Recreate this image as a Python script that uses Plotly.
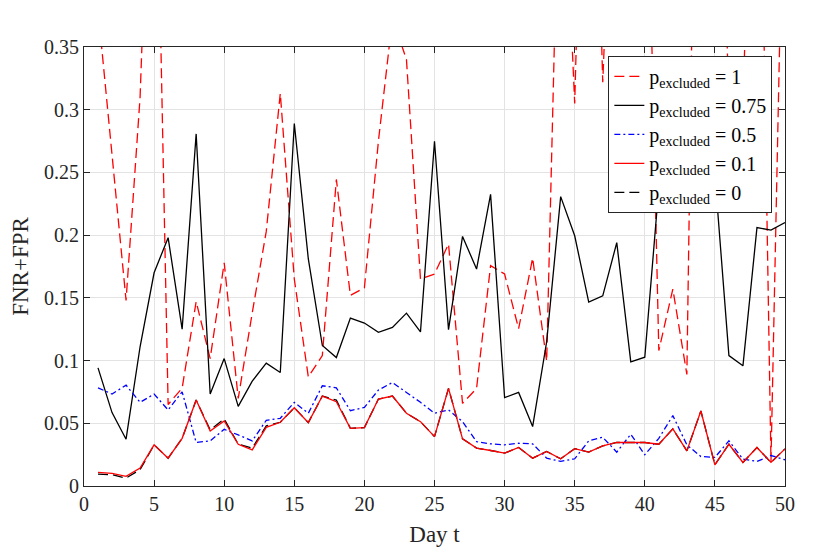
import plotly.graph_objects as go

days = list(range(1, 51))

p_1 = [0.38, 0.265, 0.148, 0.31, 0.62, 0.065, 0.078, 0.147, 0.1016, 0.178,
       0.0698, 0.138, 0.203, 0.313, 0.165, 0.087, 0.104, 0.2444, 0.152, 0.158,
       0.275, 0.373, 0.34, 0.165, 0.169, 0.193, 0.0659, 0.0778, 0.1757, 0.169,
       0.1254, 0.1817, 0.0995, 0.559, 0.305, 0.72, 0.322, 0.6, 0.55, 0.6,
       0.108, 0.157, 0.089, 0.86, 0.72, 0.3, 0.3, 0.7, 0.0196, 0.56]

p_075 = [0.0942, 0.0585, 0.0373, 0.111, 0.170, 0.198, 0.125, 0.2807, 0.0733, 0.1016,
         0.0635, 0.0836, 0.0979, 0.0905, 0.289, 0.181, 0.112, 0.1024, 0.1339, 0.1299,
         0.1225, 0.1264, 0.1378, 0.1228, 0.2749, 0.1246, 0.199, 0.173, 0.2325, 0.0704,
         0.0746, 0.0474, 0.115, 0.2307, 0.1995, 0.1466, 0.1516, 0.194, 0.099, 0.1027,
         0.238, 0.27, 0.23, 0.28, 0.248, 0.104, 0.0958, 0.206, 0.204, 0.21]

p_05 = [0.0783, 0.0733, 0.0804, 0.0667, 0.0733, 0.0606, 0.0751, 0.0347, 0.036, 0.0452,
        0.0407, 0.036, 0.0524, 0.054, 0.0667, 0.058, 0.0799, 0.0783, 0.060, 0.0627,
        0.0765, 0.0825, 0.0746, 0.0667, 0.058, 0.0606, 0.0513, 0.0354, 0.0336, 0.0328,
        0.0341, 0.0336, 0.0222, 0.0196, 0.0217, 0.036, 0.0389, 0.027, 0.0413, 0.0249,
        0.038, 0.0561, 0.0328, 0.0235, 0.0228, 0.036, 0.0214, 0.0196, 0.0243, 0.0209]

p_01 = [0.0108, 0.0101, 0.0077, 0.0143, 0.0328, 0.0222, 0.038, 0.0685, 0.0439, 0.0519,
        0.0333, 0.0288, 0.0468, 0.0508, 0.0624, 0.0505, 0.0717, 0.0672, 0.046, 0.0466,
        0.0693, 0.0717, 0.058, 0.0513, 0.0394, 0.0778, 0.0376, 0.0302, 0.0283, 0.0262,
        0.0307, 0.0222, 0.0275, 0.0217, 0.0298, 0.027, 0.032, 0.0347, 0.0347, 0.0347,
        0.0333, 0.0455, 0.028, 0.0598, 0.0169, 0.0333, 0.0188, 0.0307, 0.0188, 0.0296]

p_0 = [0.0095, 0.009, 0.0063, 0.013, 0.0328, 0.0222, 0.038, 0.0685, 0.0447, 0.0534,
       0.0333, 0.0302, 0.0479, 0.0508, 0.0624, 0.0505, 0.0717, 0.0685, 0.046, 0.0466,
       0.0693, 0.0717, 0.058, 0.0513, 0.0394, 0.0778, 0.0376, 0.0302, 0.0283, 0.0262,
       0.0307, 0.0222, 0.0275, 0.0217, 0.0298, 0.027, 0.032, 0.0347, 0.0347, 0.0347,
       0.0333, 0.0455, 0.028, 0.0598, 0.0169, 0.0333, 0.0188, 0.0307, 0.0188, 0.0296]

x_ticks = [0, 5, 10, 15, 20, 25, 30, 35, 40, 45, 50]
y_ticks = [0, 0.05, 0.1, 0.15, 0.2, 0.25, 0.3, 0.35]

FONT = "Liberation Serif"
AX = "#262626"

def name(v):
    return f"p<sub>excluded</sub> = {v}"

fig = go.Figure()
fig.add_trace(go.Scatter(x=days, y=p_1, mode="lines", name=name("1"), legendrank=1,
                         line=dict(color="#ff0000", width=1.3, dash="10px,5px")))
fig.add_trace(go.Scatter(x=days, y=p_075, mode="lines", name=name("0.75"), legendrank=2,
                         line=dict(color="#000000", width=1.3)))
fig.add_trace(go.Scatter(x=days, y=p_05, mode="lines", name=name("0.5"), legendrank=3,
                         line=dict(color="#0000ff", width=1.3, dash="6px,3px,2px,3px")))
fig.add_trace(go.Scatter(x=days, y=p_0, mode="lines", name=name("0"), legendrank=5,
                         line=dict(color="#000000", width=1.3, dash="10px,5px")))
fig.add_trace(go.Scatter(x=days, y=p_01, mode="lines", name=name("0.1"), legendrank=4,
                         line=dict(color="#ff0000", width=1.3)))

axis_common = dict(showline=True, linecolor=AX, linewidth=1, mirror="ticks",
                   ticks="inside", ticklen=6, tickcolor=AX, showgrid=True,
                   gridcolor="#e3e3e3", gridwidth=1, zeroline=False,
                   tickfont=dict(family=FONT, size=20, color=AX))

fig.update_xaxes(range=[0, 50], tickvals=x_ticks, **axis_common,
                 title=dict(text="Day t", font=dict(family=FONT, size=23, color=AX), standoff=11))
fig.update_yaxes(range=[0, 0.35], tickvals=y_ticks, **axis_common,
                 title=dict(text="FNR+FPR", font=dict(family=FONT, size=23, color=AX), standoff=8))

fig.update_layout(
    width=822, height=546,
    margin=dict(l=70, r=45, t=39, b=66),
    paper_bgcolor="white", plot_bgcolor="white",
    font=dict(family=FONT, color=AX),
    legend=dict(x=0.748, y=0.98, xanchor="left", yanchor="top",
                bgcolor="white", bordercolor=AX, borderwidth=1,
                font=dict(family=FONT, size=20, color="#000000"),
                itemwidth=30, tracegroupgap=0),
)

fig.write_html("out.html")
